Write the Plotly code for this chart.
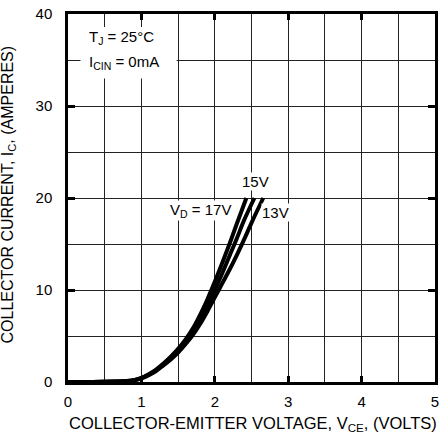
import plotly.graph_objects as go

# Data
vce_17 = [0, 0.5, 0.8, 0.9, 1.0, 1.1, 1.2, 1.3, 1.4, 1.5, 1.6, 1.7, 1.8, 1.9, 2.0, 2.1, 2.2, 2.3, 2.43]
ic_17 = [0, 0.02, 0.1, 0.2, 0.45, 0.85, 1.35, 2.0, 2.75, 3.6, 4.6, 5.8, 7.3, 9.0, 10.9, 12.9, 15.0, 17.2, 20]

vce_15 = [0, 0.5, 0.8, 0.9, 1.0, 1.1, 1.2, 1.3, 1.4, 1.5, 1.6, 1.7, 1.8, 1.9, 2.0, 2.1, 2.2, 2.3, 2.4, 2.54]
ic_15 = [0, 0.02, 0.1, 0.2, 0.42, 0.8, 1.3, 1.9, 2.6, 3.4, 4.35, 5.45, 6.8, 8.3, 10.0, 11.8, 13.7, 15.6, 17.6, 20]

vce_13 = [0, 0.5, 0.8, 0.9, 1.0, 1.1, 1.2, 1.3, 1.4, 1.5, 1.6, 1.7, 1.8, 1.9, 2.0, 2.1, 2.2, 2.3, 2.4, 2.5, 2.66]
ic_13 = [0, 0.02, 0.1, 0.2, 0.4, 0.75, 1.2, 1.8, 2.45, 3.2, 4.1, 5.1, 6.3, 7.7, 9.2, 10.7, 12.2, 13.8, 15.5, 17.3, 20]

x_ticks = [0, 1, 2, 3, 4, 5]
y_ticks = [0, 10, 20, 30, 40]

x_title = "COLLECTOR-EMITTER VOLTAGE, V<sub>CE</sub>, (VOLTS)"
y_title = "COLLECTOR CURRENT, I<sub>C</sub>, (AMPERES)"

FONT = "Liberation Sans, Arial, Helvetica, sans-serif"
FS = 15

fig = go.Figure()
for vx, iy in [(vce_17, ic_17), (vce_15, ic_15), (vce_13, ic_13)]:
    fig.add_trace(go.Scatter(x=vx, y=iy, mode="lines",
                             line=dict(color="black", width=4, shape="spline"),
                             showlegend=False, hoverinfo="skip"))

fig.update_layout(
    width=444, height=433,
    margin=dict(l=68, r=9, t=14, b=51, autoexpand=False),
    paper_bgcolor="white", plot_bgcolor="white",
    font=dict(family=FONT, size=FS, color="black"),
    showlegend=False,
)

fig.update_xaxes(
    range=[0, 5], tickvals=x_ticks, ticktext=[str(t) for t in x_ticks],
    ticks="inside", ticklen=6, tickwidth=2.5, tickcolor="black",
    showline=True, linewidth=2.5, linecolor="black", mirror="ticks",
    showgrid=True, gridcolor="#222", gridwidth=1,
    minor=dict(dtick=0.5, showgrid=True, gridcolor="#222", gridwidth=1, ticks=""),
    zeroline=False, ticklabelstandoff=4, ticklabeloverflow="allow",
    automargin=False, tickfont=dict(size=FS),
)
fig.update_yaxes(
    range=[0, 40], tickvals=y_ticks, ticktext=[str(t) for t in y_ticks],
    ticks="inside", ticklen=7, tickwidth=2.5, tickcolor="black",
    showline=True, linewidth=2.5, linecolor="black", mirror="ticks",
    showgrid=True, gridcolor="#222", gridwidth=1,
    minor=dict(dtick=5, showgrid=True, gridcolor="#222", gridwidth=1, ticks=""),
    zeroline=False, ticklabelstandoff=10, ticklabeloverflow="allow",
    automargin=False, tickfont=dict(size=FS),
)

# white box behind condition text (above grid, below data)
fig.add_shape(type="rect", xref="x", yref="y", x0=0.17, x1=1.48, y0=33.0, y1=38.6,
              fillcolor="white", line=dict(width=0), layer="between")

annos = [
    dict(x=0.27, y=37.4, text="T<sub>J</sub> = 25°C", xanchor="left"),
    dict(x=0.27, y=34.7, text="I<sub>CIN</sub> = 0mA", xanchor="left"),
    dict(x=2.56, y=21.8, text="15V", xanchor="center"),
    dict(x=1.81, y=18.6, text="V<sub>D</sub> = 17V", xanchor="center"),
    dict(x=2.83, y=18.4, text="13V", xanchor="center"),
]
for a in annos:
    fig.add_annotation(xref="x", yref="y", showarrow=False, yanchor="middle",
                       bgcolor="white", borderpad=0,
                       font=dict(size=FS, color="black", family=FONT), **a)

# axis titles
fig.add_annotation(xref="paper", yref="paper", x=0.505, y=-0.113, text=x_title,
                   showarrow=False, xanchor="center", yanchor="middle",
                   font=dict(size=16.5, color="black", family=FONT))
fig.add_annotation(xref="paper", yref="paper", x=-0.163, y=0.51, text=y_title,
                   showarrow=False, xanchor="center", yanchor="middle", textangle=-90,
                   font=dict(size=16, color="black", family=FONT))

fig.write_html("out.html", config={"displayModeBar": False},
               post_script="document.body.style.margin='0';")
